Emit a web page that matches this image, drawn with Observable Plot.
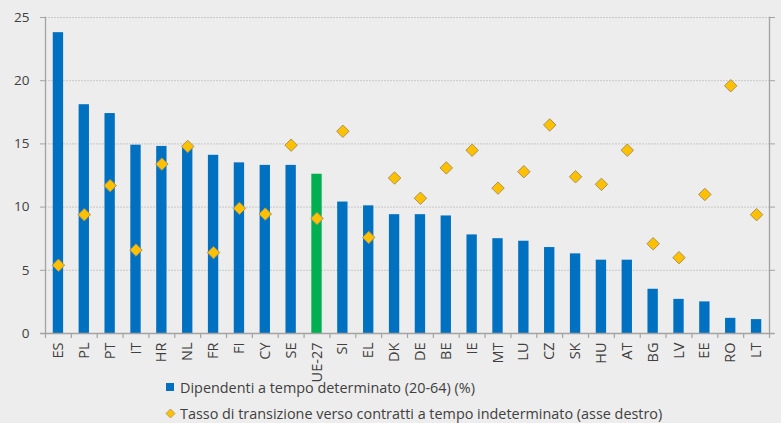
<!DOCTYPE html>
<html>
<head>
<meta charset="utf-8">
<script src="https://cdn.jsdelivr.net/npm/d3@7"></script>
<script src="https://cdn.jsdelivr.net/npm/@observablehq/plot@0.6"></script>
<style>
  html, body { margin: 0; padding: 0; background: #ededed; }
  #chart svg { overflow: visible; display: block; }
  #legend { font-family: "Open Sans", sans-serif; font-size: 14.4px; color: #404040; margin-left: 165px; padding-top: 2px; }
  #legend .row { height: 26px; display: flex; align-items: center; white-space: nowrap; }
  #legend .sq { width: 8px; height: 8px; background: #0070C0; display: inline-block; margin-right: 6px; margin-left: 1px; }
  #legend svg { margin-right: 4px; }
</style>
</head>
<body>
<div id="chart"></div>
<div id="legend">
  <div class="row"><span class="sq"></span><span>Dipendenti a tempo determinato (20-64) (%)</span></div>
  <div class="row"><svg width="11" height="11" viewBox="-5.5 -5.5 11 11"><path d="M0,-4.5L4.5,0L0,4.5L-4.5,0Z" fill="#FFC000" stroke="#a8925a" stroke-width="0.8"/></svg><span>Tasso di transizione verso contratti a tempo indeterminato (asse destro)</span></div>
</div>
<script>
const categories = ["ES","PL","PT","IT","HR","NL","FR","FI","CY","SE","UE-27","SI","EL","DK","DE","BE","IE","MT","LU","CZ","SK","HU","AT","BG","LV","EE","RO","LT"];
const temporaryShare = [23.8,18.1,17.4,14.9,14.8,14.7,14.1,13.5,13.3,13.3,12.6,10.4,10.1,9.4,9.4,9.3,7.8,7.5,7.3,6.8,6.3,5.8,5.8,3.5,2.7,2.5,1.2,1.1];
const transitionRate = [5.4,9.4,11.7,6.6,13.4,14.8,6.4,9.9,9.45,14.9,9.1,16.0,7.6,12.3,10.7,13.1,14.5,11.5,12.8,16.5,12.4,11.8,14.5,7.1,6.0,11.0,19.6,9.4];
const yTicks = [0,5,10,15,20,25];
const aggregate = "UE-27";

const data = categories.map((c, i) => ({c, bar: temporaryShare[i], rate: transitionRate[i]}));

const W = 781, H = 372, mL = 45, mR = 12, mT = 17, mB = 39;
const step = (W - mL - mR) / categories.length;
const axisColor = "#a3a3a3";

const chart = Plot.plot({
  width: W, height: H,
  marginLeft: mL, marginRight: mR, marginTop: mT, marginBottom: mB,
  style: {background: "transparent", fontFamily: "Open Sans, sans-serif", fontSize: "13px", color: "#404040", overflow: "visible"},
  x: {domain: categories, paddingInner: 0.6, paddingOuter: 0.3, round: false, label: null},
  y: {domain: [0, 25], label: null},
  marks: [
    Plot.gridY(yTicks.filter(t => t > 0), {stroke: "#c8c8c8", strokeOpacity: 1, strokeDasharray: "2,1"}),
    Plot.barY(data.filter(d => d.c !== aggregate), {x: "c", y: "bar", fill: "#0070C0"}),
    Plot.barY(data.filter(d => d.c === aggregate), {x: "c", y: "bar", fill: "#00B050"}),
    Plot.frame({anchor: "left", stroke: axisColor, strokeWidth: 1.3}),
    Plot.frame({anchor: "right", stroke: axisColor, strokeWidth: 1.3}),
    Plot.ruleY([0], {stroke: axisColor, strokeWidth: 1.3, insetLeft: -5, insetRight: -5}),
    Plot.ruleX(categories, {x: d => d, dx: -step / 2, y1: 0, y2: 0, insetBottom: -5, stroke: axisColor, strokeWidth: 1.2}),
    Plot.ruleX([categories[categories.length - 1]], {x: d => d, dx: step / 2, y1: 0, y2: 0, insetBottom: -5, stroke: axisColor, strokeWidth: 1.2}),
    Plot.axisY({anchor: "left", ticks: yTicks, tickSize: 5, tickPadding: 11, stroke: axisColor, fill: "#404040", fontSize: 13.5, label: null}),
    Plot.axisY({anchor: "right", ticks: yTicks, tickSize: 5, tickFormat: () => "", stroke: axisColor, label: null}),
    Plot.axisX({tickSize: 0, tickRotate: -90, tickPadding: 9, fill: "#404040", fontSize: 14.5, label: null}),
    Plot.dot(data, {x: "c", y: "rate", symbol: "diamond2", r: 5.6, fill: "#FFC000", stroke: "#a8925a", strokeWidth: 1})
  ]
});
document.getElementById("chart").appendChild(chart);
</script>
</body>
</html>
